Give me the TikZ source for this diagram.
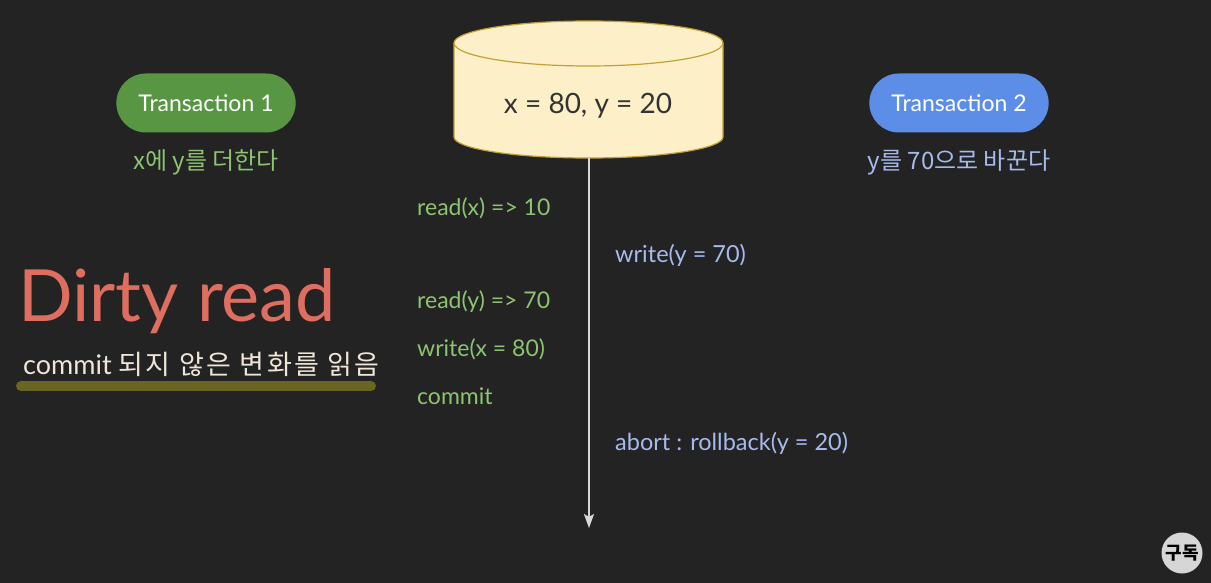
\documentclass[tikz,border=0pt]{standalone}
\usepackage{fontspec}
\setmainfont{Lato}
\newfontfamily\kr{Noto Sans CJK KR}
\newfontfamily\krwide[LetterSpace=9]{Noto Sans CJK KR}
\usetikzlibrary{shapes.geometric,shapes.misc,arrows.meta}
\definecolor{bg}{RGB}{35,35,36}
\definecolor{tgreen}{RGB}{88,150,68}
\definecolor{tblue}{RGB}{92,142,232}
\definecolor{lgreen}{RGB}{140,196,112}
\definecolor{lblue}{RGB}{166,186,236}
\definecolor{dbfill}{RGB}{253,240,200}
\definecolor{dbline}{RGB}{196,160,50}
\definecolor{dirty}{RGB}{222,110,95}
\definecolor{cream}{RGB}{240,230,216}
\definecolor{olive}{RGB}{104,102,34}
\definecolor{badge}{RGB}{214,214,214}
\tikzset{
  pill/.style={rounded rectangle, minimum width=186pt, minimum height=59pt, text=white, font=\fontsize{23}{26}\selectfont},
  gtext/.style={text=lgreen, font=\fontsize{23}{26}\selectfont, anchor=west, inner sep=0pt},
  btext/.style={text=lblue, font=\fontsize{23.5}{26}\selectfont, anchor=west, inner sep=0pt},
  subt/.style={font=\kr\fontsize{24}{28}\selectfont, inner sep=0pt},
}
\begin{document}
\begin{tikzpicture}[x=1pt,y=-1pt]
\fill[bg] (0,0) rectangle (1211,583);
\useasboundingbox (0,0) rectangle (1211,583);
% transactions
\node[pill, fill=tgreen] (t1) at (206,103) {Transaction 1};
\node[subt, text=lgreen] (t1s) at (206,162) {x에 y를 더한다};
\node[pill, fill=tblue] (t2) at (959,103) {Transaction 2};
\node[subt, text=lblue] (t2s) at (959,162) {y를 70으로 바꾼다};
% database cylinder
\filldraw[fill=dbfill, draw=dbline, line width=1.2pt]
  (454,43) -- (454,137) arc[start angle=180, end angle=0, x radius=134.5, y radius=21] -- (723,43)
  arc[start angle=0, end angle=-180, x radius=134.5, y radius=22] -- cycle;
\draw[dbline, line width=1.2pt] (454,43) arc[start angle=180, end angle=0, x radius=134.5, y radius=23];
\node[text=black!80, font=\fontsize{28}{32}\selectfont] (db) at (588,106) {x = 80, y = 20};
\coordinate (dbbot) at (589,158);
\coordinate (tend) at (589,528);
\draw[white!85!black, line width=2pt, -{Stealth[length=14pt,width=10pt,inset=3pt]}] (dbbot) -- (tend);
% transaction 1 steps
\node[gtext] (r1) at (417,208) {read(x) => 10};
\node[gtext] (r2) at (417,302) {read(y) => 70};
\node[gtext] (w1) at (417,349) {write(x = 80)};
\node[gtext] (c1) at (417,396) {commit};
% transaction 2 steps
\node[btext] (w2) at (615,255) {write(y = 70)};
\node[btext] (ab) at (615,443) {abort : rollback(y = 20)};
% dirty read
\draw[olive, line width=10pt, line cap=round] (21,386) -- (371,386);
\node[text=dirty, font=\fontsize{72}{80}\selectfont, anchor=base west, inner sep=0pt] (dr) at (18,321) {Dirty read};
\node[text=cream, font=\fontsize{27}{32}\selectfont, anchor=base west, inner sep=0pt] (desc) at (23,374) {commit {\krwide 되지 않은 변화를 읽음}};
% badge
\node[circle, fill=badge, minimum size=41pt, inner sep=0pt, font=\kr\bfseries\fontsize{18}{20}\selectfont] (sub) at (1182,553) {구독};
\end{tikzpicture}
\end{document}
